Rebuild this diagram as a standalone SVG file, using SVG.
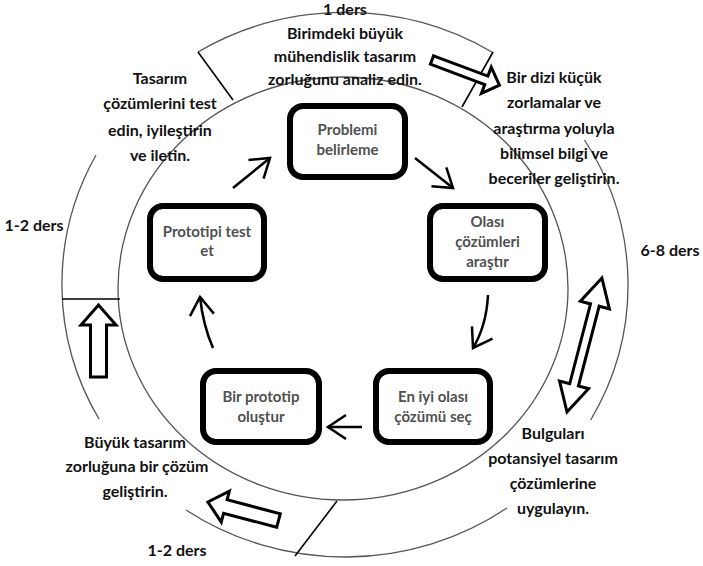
<svg xmlns="http://www.w3.org/2000/svg" width="703" height="566" viewBox="0 0 703 566">
<style>
.ring{fill:none;stroke:#555;stroke-width:1.3}
.div{stroke:#000;stroke-width:1.6}
.blk{fill:#fff;stroke:#000;stroke-width:3;stroke-linejoin:miter}
.box{fill:#fff;stroke:#000;stroke-width:6}
.lbl{font-family:Lato,"Liberation Sans",sans-serif;font-weight:bold;font-size:16px;fill:#111;text-anchor:middle}
.nt{font-family:Lato,"Liberation Sans",sans-serif;font-size:15px;font-weight:bold;fill:#505050;text-anchor:middle}
.cyc{fill:none;stroke:#000;stroke-width:2.5;marker-end:url(#v)}
</style>
<defs>
<marker id="v" viewBox="-22 -16 26 32" refX="0" refY="0" markerWidth="26" markerHeight="32" orient="auto" markerUnits="userSpaceOnUse">
<path d="M-18,-12 L0,0 L-18,12" fill="none" stroke="#000" stroke-width="2.5"/>
</marker>
</defs>
<g id="rings">
<ellipse class="ring" cx="343" cy="288.5" rx="225" ry="211.5"/>
<path class="ring" d="M198,52 A283,272 0 0 1 492,52"/>
<path class="ring" d="M584.5,140 A283,272 0 0 1 590.7,420"/>
<path class="ring" d="M507,508 A283,272 0 0 1 186,510"/>
<path class="ring" d="M99,419 A283,272 0 0 1 96,155"/>
<line class="div" x1="198" y1="52" x2="233" y2="100"/>
<line class="div" x1="493" y1="52" x2="462" y2="107"/>
<line class="div" x1="62" y1="299" x2="120" y2="299"/>
<line class="div" x1="337" y1="501" x2="295" y2="556"/>
</g>
<g id="block-arrows">
<path class="blk" transform="translate(432,60) rotate(20.5)" d="M0,-4.5 L58,-4.5 L58,-14 L72,0 L58,14 L58,4.5 L0,4.5 Z"/>
<path class="blk" transform="translate(567,412) rotate(-75.4)" d="M0,0 L28,-15 L28,-4.5 L110.5,-4.5 L110.5,-15 L138.5,0 L110.5,15 L110.5,4.5 L28,4.5 L28,15 Z"/>
<path class="blk" d="M98.5,305 L116,325 L106.5,325 L106.5,377 L90.5,377 L90.5,325 L81,325 Z"/>
<path class="blk" transform="translate(278.5,520.5) rotate(194.7)" d="M0,-7 L55,-7 L55,-16 L73,0 L55,16 L55,7 L0,7 Z"/>
</g>
<g id="node-problemi">
<rect class="box" x="290" y="106" width="115" height="71" rx="13"/>
<text class="nt" x="347.5" y="135">Problemi</text>
<text class="nt" x="347.5" y="155">belirleme</text>
</g>
<g id="node-olasi">
<rect class="box" x="430" y="206" width="115" height="73" rx="13"/>
<text class="nt" x="487.5" y="227">Olası</text>
<text class="nt" x="487.5" y="247">çözümleri</text>
<text class="nt" x="487.5" y="267">araştır</text>
</g>
<g id="node-eniyi">
<rect class="box" x="376" y="371" width="114" height="71" rx="13"/>
<text class="nt" x="433" y="402">En iyi olası</text>
<text class="nt" x="433" y="422">çözümü seç</text>
</g>
<g id="node-birprototip">
<rect class="box" x="203" y="371" width="116" height="71" rx="13"/>
<text class="nt" x="261" y="402">Bir prototip</text>
<text class="nt" x="261" y="422">oluştur</text>
</g>
<g id="node-prototipi">
<rect class="box" x="150" y="206" width="114" height="73" rx="13"/>
<text class="nt" x="207" y="237">Prototipi test</text>
<text class="nt" x="207" y="256">et</text>
</g>
<g id="connectors">
<path class="cyc" d="M233,188 L270,158"/>
<path class="cyc" d="M415,158 L453,188"/>
<path class="cyc" d="M488,295 C487,315 482,333 473,348"/>
<path class="cyc" d="M362,427 L328,427"/>
<path class="cyc" d="M213,348 Q203,325 200,297"/>
</g>
<g id="labels">
<text class="lbl" x="345" y="15">1 ders</text>
<text class="lbl" x="345" y="39">Birimdeki büyük</text>
<text class="lbl" x="345" y="62">mühendislik tasarım</text>
<text class="lbl" x="345" y="85">zorluğunu analiz edin.</text>
<text class="lbl" x="554" y="83">Bir dizi küçük</text>
<text class="lbl" x="554" y="108">zorlamalar ve</text>
<text class="lbl" x="554" y="134">araştırma yoluyla</text>
<text class="lbl" x="554" y="159">bilimsel bilgi ve</text>
<text class="lbl" x="554" y="184">beceriler geliştirin.</text>
<text class="lbl" x="160" y="84">Tasarım</text>
<text class="lbl" x="160" y="109">çözümlerini test</text>
<text class="lbl" x="160" y="136">edin, iyileştirin</text>
<text class="lbl" x="160" y="161">ve iletin.</text>
<text class="lbl" x="34" y="231">1-2 ders</text>
<text class="lbl" x="670" y="256">6-8 ders</text>
<text class="lbl" x="135" y="448">Büyük tasarım</text>
<text class="lbl" x="137" y="472">zorluğuna bir çözüm</text>
<text class="lbl" x="135" y="497">geliştirin.</text>
<text class="lbl" x="177" y="556">1-2 ders</text>
<text class="lbl" x="553" y="439">Bulguları</text>
<text class="lbl" x="553" y="464">potansiyel tasarım</text>
<text class="lbl" x="553" y="489">çözümlerine</text>
<text class="lbl" x="553" y="514">uygulayın.</text>
</g>
</svg>
